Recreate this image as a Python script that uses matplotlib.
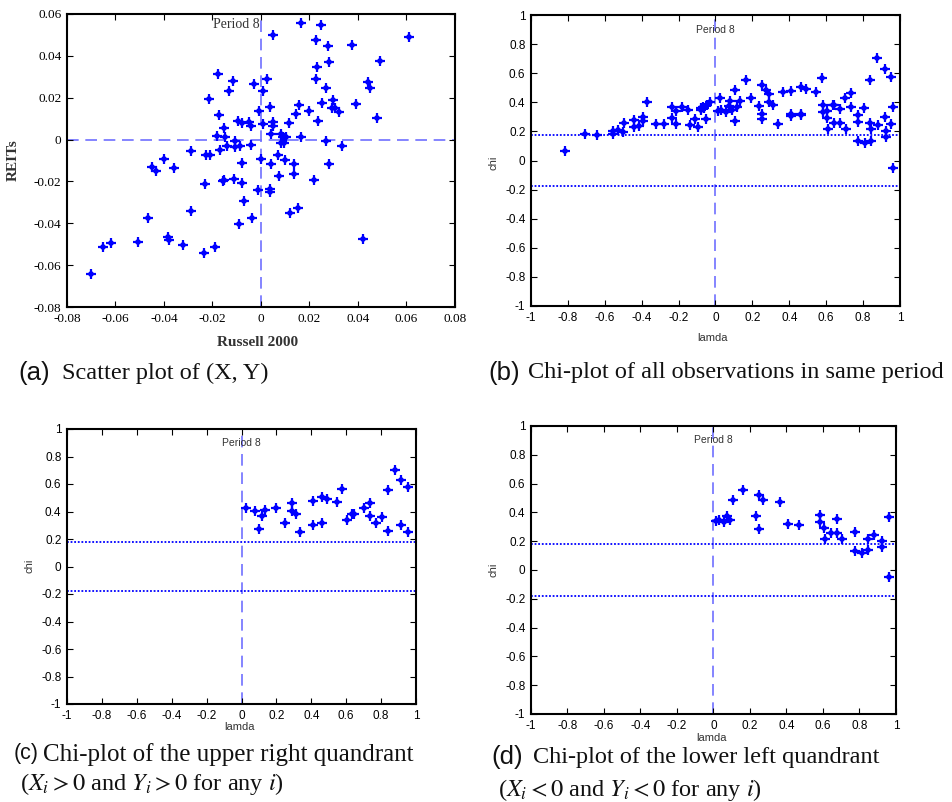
import matplotlib
matplotlib.use("Agg")
import matplotlib.pyplot as plt
import numpy as np

plt.rcParams['axes.unicode_minus'] = False
plt.rcParams['mathtext.fontset'] = 'stix'

# (a) scatter of Russell 2000 vs REITs, period 8
scatter_x = [0.0163, 0.0249, 0.0048, 0.0610, 0.0228, 0.0277, 0.0376, 0.0282, 0.0490, 0.0231,
             -0.0176, -0.0114, -0.0030, 0.0025, 0.0225, 0.0440, 0.0448, 0.0010, -0.0133, 0.0268,
             -0.0216, 0.0297, 0.0157, 0.0251, 0.0393, 0.0038, 0.0196, 0.0294, 0.0305, 0.0320,
             -0.0010, 0.0144, -0.0174, 0.0477, 0.0236, -0.0096, -0.0080, -0.0048, -0.0040, 0.0010,
             0.0051, 0.0048, 0.0117, -0.0151, 0.0040, -0.0183, -0.0147, 0.0082, 0.0103, 0.0091,
             0.0166, -0.0107, 0.0268, 0.0082, 0.0096, -0.0140, -0.0107, -0.0087, -0.0040, 0.0332,
             -0.0171, -0.0288, -0.0212, -0.0225, 0.0071, -0.0402, 0.0000, 0.0100, -0.0448, -0.0431,
             -0.0360, -0.0080, 0.0041, 0.0137, 0.0282, 0.0076, 0.0137, -0.0157, -0.0151, -0.0111,
             -0.0232, -0.0077, 0.0218, -0.0014, 0.0036, 0.0036, -0.0071, -0.0288, 0.0154, 0.0121,
             -0.0466, -0.0036, -0.0092, 0.0420, -0.0382, -0.0380, -0.0506, -0.0320, -0.0619, -0.0652,
             -0.0188, -0.0235, -0.0702]
scatter_y = [0.0555, 0.0549, 0.0501, 0.0490, 0.0477, 0.0446, 0.0450, 0.0369, 0.0374, 0.0348,
             0.0313, 0.0280, 0.0267, 0.0290, 0.0288, 0.0274, 0.0248, 0.0232, 0.0232, 0.0245,
             0.0194, 0.0188, 0.0167, 0.0173, 0.0170, 0.0158, 0.0138, 0.0151, 0.0150, 0.0130,
             0.0135, 0.0121, 0.0118, 0.0105, 0.0088, 0.0089, 0.0081, 0.0083, 0.0064, 0.0076,
             0.0083, 0.0067, 0.0081, 0.0053, 0.0029, 0.0017, 0.0013, 0.0029, 0.0014, 0.0010,
             0.0010, -0.0005, -0.0005, -0.0014, -0.0018, -0.0030, -0.0035, -0.0029, -0.0025, -0.0029,
             -0.0049, -0.0053, -0.0075, -0.0075, -0.0072, -0.0092, -0.0092, -0.0097, -0.0129, -0.0148,
             -0.0135, -0.0111, -0.0119, -0.0115, -0.0119, -0.0173, -0.0164, -0.0197, -0.0194, -0.0189,
             -0.0213, -0.0208, -0.0194, -0.0240, -0.0234, -0.0251, -0.0294, -0.0342, -0.0328, -0.0353,
             -0.0375, -0.0375, -0.0404, -0.0474, -0.0465, -0.0479, -0.0490, -0.0503, -0.0496, -0.0511,
             -0.0514, -0.0543, -0.0644]

# chi-plot points with lambda < 0 (only in panel b)
neg_lam = [-0.814, -0.709, -0.644, -0.554, -0.554, -0.527, -0.500, -0.496, -0.442, -0.442,
           -0.413, -0.391, -0.391, -0.370, -0.323, -0.277, -0.238, -0.238, -0.216, -0.216,
           -0.184, -0.151, -0.140, -0.111, -0.097, -0.081, -0.076, -0.067, -0.060, -0.051,
           -0.044, -0.032]
neg_chi = [0.065, 0.182, 0.173, 0.180, 0.205, 0.212, 0.198, 0.260, 0.228, 0.278,
           0.237, 0.297, 0.274, 0.404, 0.253, 0.253, 0.370, 0.290, 0.340, 0.251,
           0.370, 0.347, 0.244, 0.285, 0.232, 0.363, 0.347, 0.370, 0.358, 0.283,
           0.381, 0.404]

# upper right quadrant
ur_lam = [0.025, 0.076, 0.103, 0.117, 0.132, 0.195, 0.250, 0.291, 0.291, 0.312,
          0.338, 0.407, 0.407, 0.463, 0.463, 0.491, 0.545, 0.577, 0.604, 0.635,
          0.644, 0.700, 0.736, 0.736, 0.770, 0.803, 0.839, 0.839, 0.877, 0.916,
          0.916, 0.952, 0.952]
ur_chi = [0.428, 0.406, 0.270, 0.367, 0.410, 0.428, 0.319, 0.459, 0.401, 0.384,
          0.248, 0.476, 0.304, 0.503, 0.319, 0.493, 0.469, 0.564, 0.341, 0.384,
          0.384, 0.428, 0.462, 0.370, 0.316, 0.358, 0.556, 0.261, 0.702, 0.629,
          0.299, 0.576, 0.253]

# lower left quadrant
ll_lam = [0.011, 0.031, 0.059, 0.075, 0.090, 0.108, 0.163, 0.234, 0.250, 0.250,
          0.272, 0.366, 0.410, 0.466, 0.581, 0.581, 0.607, 0.611, 0.642, 0.675,
          0.675, 0.706, 0.775, 0.775, 0.812, 0.845, 0.845, 0.881, 0.923, 0.923,
          0.960, 0.960]
ll_chi = [0.338, 0.347, 0.331, 0.377, 0.345, 0.484, 0.553, 0.377, 0.519, 0.287,
          0.486, 0.470, 0.317, 0.310, 0.384, 0.331, 0.289, 0.215, 0.259, 0.354,
          0.255, 0.215, 0.262, 0.132, 0.118, 0.215, 0.137, 0.243, 0.201, 0.160,
          0.366, -0.051]

chi_band = 0.178

a_ticks = [-0.08, -0.06, -0.04, -0.02, 0, 0.02, 0.04, 0.06, 0.08]
a_tick_labels = ['-0.08', '-0.06', '-0.04', '-0.02', '0', '0.02', '0.04', '0.06', '0.08']
a_yticks = [-0.08, -0.06, -0.04, -0.02, 0, 0.02, 0.04, 0.06]
a_ytick_labels = ['-0.08', '-0.06', '-0.04', '-0.02', '0', '0.02', '0.04', '0.06']
chi_ticks = [-1, -0.8, -0.6, -0.4, -0.2, 0, 0.2, 0.4, 0.6, 0.8, 1]
chi_tick_labels = ['-1', '-0.8', '-0.6', '-0.4', '-0.2', '0', '0.2', '0.4', '0.6', '0.8', '1']

W, H = 953, 802
fig = plt.figure(figsize=(W / 100, H / 100), dpi=100)


def px_axes(l, t, r, b):
    return fig.add_axes([l / W, 1 - b / H, (r - l) / W, (b - t) / H])


def px_text(x, y, s, **kw):
    fig.text(x / W, 1 - y / H, s, va='center', **kw)


BLUE = '#0000ff'
DASH = '#7070ff'


def stars(ax, x, y):
    # matlab-ish '*' marker: a bold plus with a smaller x on top
    ax.plot(x, y, marker='+', markersize=7, mew=1.6, color=BLUE, ls='none')
    ax.plot(x, y, marker='x', markersize=3.5, mew=1.2, color=BLUE, ls='none')


def frame(ax, fam, size):
    for sp in ax.spines.values():
        sp.set_linewidth(1.5)
    ax.tick_params(direction='in', top=True, right=True, length=4, width=0.8,
                   labelsize=size, pad=4)
    for lab in ax.get_xticklabels() + ax.get_yticklabels():
        lab.set_family(fam)


# (a)
ax = px_axes(67, 14, 455, 307)
stars(ax, scatter_x, scatter_y)
ax.axvline(0, color=DASH, ls=(0, (7, 4)), lw=1.2, zorder=1)
ax.axhline(0, color=DASH, ls=(0, (7, 4)), lw=1.2, zorder=1)
ax.set_xlim(-0.08, 0.08)
ax.set_ylim(-0.08, 0.06)
ax.set_xticks(a_ticks)
ax.set_xticklabels(a_tick_labels)
ax.set_yticks(a_yticks)
ax.set_yticklabels(a_ytick_labels)
frame(ax, 'Liberation Serif', 9.5)
ax.text(-0.0004, 0.0552, 'Period 8', family='Liberation Serif', fontsize=10,
        ha='right', va='center', color='#333333')
px_text(258, 342, 'Russell 2000', family='Liberation Serif', fontsize=11,
        fontweight='bold', color='#333333', ha='center')
px_text(13, 160, 'REITs', family='Liberation Serif', fontsize=11,
        fontweight='bold', color='#333333', ha='center', rotation=90)


def chi_panel(box, lam, chi, lab_xy, chi_xy):
    ax = px_axes(*box)
    stars(ax, lam, chi)
    ax.axvline(0, color=DASH, ls=(0, (7, 4)), lw=1.2, zorder=1)
    ax.axhline(chi_band, color=BLUE, ls=(0, (1, 1)), lw=1.3, zorder=1)
    ax.axhline(-chi_band, color=BLUE, ls=(0, (1, 1)), lw=1.3, zorder=1)
    ax.set_xlim(-1, 1)
    ax.set_ylim(-1, 1)
    ax.set_xticks(chi_ticks)
    ax.set_xticklabels(chi_tick_labels)
    ax.set_yticks(chi_ticks)
    ax.set_yticklabels(chi_tick_labels)
    frame(ax, 'Liberation Sans', 8.5)
    ax.text(0.0, 0.9, 'Period 8', family='Liberation Sans', fontsize=7.5,
            ha='center', va='center', color='#333333')
    px_text(lab_xy[0], lab_xy[1], 'lamda', family='Liberation Sans', fontsize=8,
            ha='center', color='#333333')
    px_text(chi_xy[0], chi_xy[1], 'chi', family='Liberation Sans', fontsize=8,
            ha='center', rotation=90, color='#333333')
    return ax


chi_panel((531, 15, 900, 306), neg_lam + ur_lam + ll_lam, neg_chi + ur_chi + ll_chi,
          (713, 338), (494, 163))
chi_panel((67, 429, 416, 704), ur_lam, ur_chi, (240, 727), (30, 566))
chi_panel((531, 426, 896, 714), ll_lam, ll_chi, (712, 738), (494, 570))

# captions
CAP = dict(family='Liberation Serif', fontsize=17.5, color='#111111')
LET = dict(family='Liberation Sans', fontsize=18.5, color='#111111')
px_text(18, 373, '(a)', **LET)
px_text(62, 373, 'Scatter plot of (X, Y)', **CAP)
px_text(488, 373, '(b)', **LET)
px_text(528, 373, 'Chi-plot of all observations in same period', **CAP)
px_text(14, 754, '(c)', family='Liberation Sans', fontsize=15.5, color='#111111')
px_text(43, 755, 'Chi-plot of the upper right quandrant', family='Liberation Serif',
        fontsize=18, color='#111111')
px_text(20, 784, r'($X_i > 0$ and $Y_i > 0$ for any $i$)', **CAP)
px_text(491, 757, '(d)', **LET)
px_text(533, 757, 'Chi-plot of the lower left quandrant', **CAP)
px_text(498, 790, r'($X_i < 0$ and $Y_i < 0$ for any $i$)', **CAP)

fig.savefig('out.png', dpi=100)
